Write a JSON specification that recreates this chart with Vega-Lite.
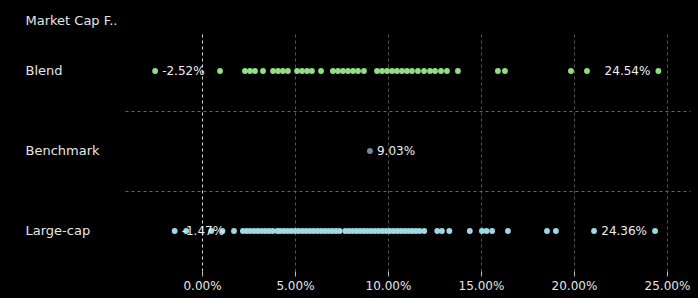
{
  "$schema": "https://vega.github.io/schema/vega-lite/v6.json",
  "width": 565,
  "height": 240,
  "autosize": {"type": "none"},
  "padding": {"left": 125, "top": 31, "right": 8, "bottom": 27},
  "background": "#000000",
  "config": {
    "view": {"stroke": null},
    "font": "DejaVu Sans",
    "locale": {"number": {"decimal": ".", "thousands": ",", "grouping": [3], "currency": ["$", ""], "minus": "-"}}
  },
  "data": {
    "values": [
      {"cap": "Blend", "value": -0.0252},
      {"cap": "Blend", "value": 0.0097},
      {"cap": "Blend", "value": 0.0231},
      {"cap": "Blend", "value": 0.0258},
      {"cap": "Blend", "value": 0.0285},
      {"cap": "Blend", "value": 0.0328},
      {"cap": "Blend", "value": 0.0382},
      {"cap": "Blend", "value": 0.0409},
      {"cap": "Blend", "value": 0.0435},
      {"cap": "Blend", "value": 0.0462},
      {"cap": "Blend", "value": 0.0511},
      {"cap": "Blend", "value": 0.0538},
      {"cap": "Blend", "value": 0.0565},
      {"cap": "Blend", "value": 0.0591},
      {"cap": "Blend", "value": 0.064},
      {"cap": "Blend", "value": 0.0704},
      {"cap": "Blend", "value": 0.0731},
      {"cap": "Blend", "value": 0.0758},
      {"cap": "Blend", "value": 0.0785},
      {"cap": "Blend", "value": 0.0812},
      {"cap": "Blend", "value": 0.0839},
      {"cap": "Blend", "value": 0.0871},
      {"cap": "Blend", "value": 0.0941},
      {"cap": "Blend", "value": 0.0968},
      {"cap": "Blend", "value": 0.0995},
      {"cap": "Blend", "value": 0.1022},
      {"cap": "Blend", "value": 0.1048},
      {"cap": "Blend", "value": 0.1075},
      {"cap": "Blend", "value": 0.1102},
      {"cap": "Blend", "value": 0.1129},
      {"cap": "Blend", "value": 0.1161},
      {"cap": "Blend", "value": 0.1194},
      {"cap": "Blend", "value": 0.1226},
      {"cap": "Blend", "value": 0.1253},
      {"cap": "Blend", "value": 0.1285},
      {"cap": "Blend", "value": 0.1317},
      {"cap": "Blend", "value": 0.1376},
      {"cap": "Blend", "value": 0.1591},
      {"cap": "Blend", "value": 0.1629},
      {"cap": "Blend", "value": 0.1984},
      {"cap": "Blend", "value": 0.207},
      {"cap": "Blend", "value": 0.2454},
      {"cap": "Benchmark", "value": 0.0903},
      {"cap": "Large-cap", "value": -0.0147},
      {"cap": "Large-cap", "value": -0.0085},
      {"cap": "Large-cap", "value": 0.005},
      {"cap": "Large-cap", "value": 0.011},
      {"cap": "Large-cap", "value": 0.0172},
      {"cap": "Large-cap", "value": 0.022},
      {"cap": "Large-cap", "value": 0.024},
      {"cap": "Large-cap", "value": 0.026},
      {"cap": "Large-cap", "value": 0.028},
      {"cap": "Large-cap", "value": 0.03},
      {"cap": "Large-cap", "value": 0.032},
      {"cap": "Large-cap", "value": 0.034},
      {"cap": "Large-cap", "value": 0.036},
      {"cap": "Large-cap", "value": 0.038},
      {"cap": "Large-cap", "value": 0.0405},
      {"cap": "Large-cap", "value": 0.042},
      {"cap": "Large-cap", "value": 0.044},
      {"cap": "Large-cap", "value": 0.046},
      {"cap": "Large-cap", "value": 0.048},
      {"cap": "Large-cap", "value": 0.05},
      {"cap": "Large-cap", "value": 0.052},
      {"cap": "Large-cap", "value": 0.054},
      {"cap": "Large-cap", "value": 0.056},
      {"cap": "Large-cap", "value": 0.058},
      {"cap": "Large-cap", "value": 0.06},
      {"cap": "Large-cap", "value": 0.062},
      {"cap": "Large-cap", "value": 0.064},
      {"cap": "Large-cap", "value": 0.066},
      {"cap": "Large-cap", "value": 0.068},
      {"cap": "Large-cap", "value": 0.07},
      {"cap": "Large-cap", "value": 0.072},
      {"cap": "Large-cap", "value": 0.074},
      {"cap": "Large-cap", "value": 0.077},
      {"cap": "Large-cap", "value": 0.079},
      {"cap": "Large-cap", "value": 0.081},
      {"cap": "Large-cap", "value": 0.083},
      {"cap": "Large-cap", "value": 0.085},
      {"cap": "Large-cap", "value": 0.087},
      {"cap": "Large-cap", "value": 0.089},
      {"cap": "Large-cap", "value": 0.091},
      {"cap": "Large-cap", "value": 0.093},
      {"cap": "Large-cap", "value": 0.095},
      {"cap": "Large-cap", "value": 0.097},
      {"cap": "Large-cap", "value": 0.099},
      {"cap": "Large-cap", "value": 0.101},
      {"cap": "Large-cap", "value": 0.103},
      {"cap": "Large-cap", "value": 0.105},
      {"cap": "Large-cap", "value": 0.107},
      {"cap": "Large-cap", "value": 0.109},
      {"cap": "Large-cap", "value": 0.111},
      {"cap": "Large-cap", "value": 0.113},
      {"cap": "Large-cap", "value": 0.115},
      {"cap": "Large-cap", "value": 0.117},
      {"cap": "Large-cap", "value": 0.1195},
      {"cap": "Large-cap", "value": 0.1265},
      {"cap": "Large-cap", "value": 0.129},
      {"cap": "Large-cap", "value": 0.133},
      {"cap": "Large-cap", "value": 0.144},
      {"cap": "Large-cap", "value": 0.1505},
      {"cap": "Large-cap", "value": 0.153},
      {"cap": "Large-cap", "value": 0.156},
      {"cap": "Large-cap", "value": 0.1645},
      {"cap": "Large-cap", "value": 0.1855},
      {"cap": "Large-cap", "value": 0.1903},
      {"cap": "Large-cap", "value": 0.2108},
      {"cap": "Large-cap", "value": 0.2436}
    ]
  },
  "encoding": {
    "y": {
      "field": "cap",
      "type": "nominal",
      "sort": ["Blend", "Benchmark", "Large-cap"],
      "scale": {"type": "band", "paddingInner": 0, "paddingOuter": 0},
      "axis": {
        "title": "Market Cap F..",
        "titleAngle": 0,
        "titleAlign": "left",
        "titleBaseline": "middle",
        "titleX": -100,
        "titleY": -11,
        "titleFontSize": 13,
        "titleFontWeight": "normal",
        "titleColor": "#e6e6e6",
        "labelAlign": "left",
        "labelBaseline": "middle",
        "labelPadding": 100,
        "ticks": false,
        "domain": false,
        "labelFontSize": 13,
        "labelColor": "#e6e6e6",
        "grid": true,
        "gridColor": "#666666",
        "gridDash": [3, 3],
        "bandPosition": 1,
        "gridOpacity": {"condition": {"test": "datum.value === 'Large-cap'", "value": 0}, "value": 1}
      }
    },
    "x": {
      "field": "value",
      "type": "quantitative",
      "scale": {"domain": [-0.0414, 0.2624], "nice": false, "zero": false},
      "axis": {
        "title": null,
        "format": ".2%",
        "values": [0, 0.05, 0.1, 0.15, 0.2, 0.25],
        "domain": false,
        "tickColor": "#bbbbbb",
        "tickSize": 5,
        "labelFontSize": 12,
        "labelColor": "#e6e6e6",
        "labelPadding": 4,
        "grid": true,
        "gridColor": {"condition": {"test": "datum.value === 0", "value": "#d8d8d8"}, "value": "#555555"},
        "gridDash": [3, 3]
      }
    }
  },
  "layer": [
    {
      "mark": {"type": "circle", "size": 34, "opacity": 1},
      "encoding": {
        "color": {
          "field": "cap",
          "type": "nominal",
          "scale": {"domain": ["Blend", "Benchmark", "Large-cap"], "range": ["#92de84", "#718b99", "#9ed9e6"]},
          "legend": null
        }
      }
    },
    {
      "transform": [
        {"joinaggregate": [{"op": "min", "field": "value", "as": "vmin"}, {"op": "max", "field": "value", "as": "vmax"}], "groupby": ["cap"]},
        {"filter": "datum.value === datum.vmin"}
      ],
      "mark": {"type": "text", "align": "left", "baseline": "middle", "dx": 7, "fontSize": 12, "color": "#eeeeee"},
      "encoding": {"text": {"field": "value", "type": "quantitative", "format": ".2%"}}
    },
    {
      "transform": [
        {"joinaggregate": [{"op": "min", "field": "value", "as": "vmin"}, {"op": "max", "field": "value", "as": "vmax"}], "groupby": ["cap"]},
        {"filter": "datum.value === datum.vmax && datum.vmin !== datum.vmax"}
      ],
      "mark": {"type": "text", "align": "right", "baseline": "middle", "dx": -8, "fontSize": 12, "color": "#eeeeee"},
      "encoding": {"text": {"field": "value", "type": "quantitative", "format": ".2%"}}
    }
  ]
}
